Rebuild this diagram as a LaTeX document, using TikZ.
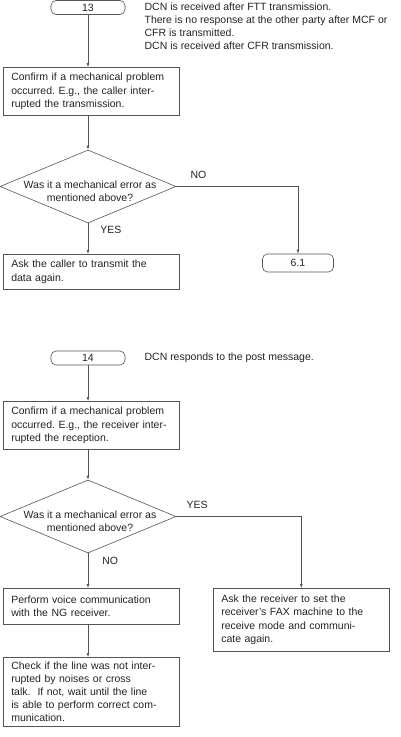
\documentclass[tikz,border=0pt]{standalone}
\usepackage{fontspec}
\setmainfont{Liberation Sans}
\usetikzlibrary{positioning,shapes.geometric,arrows.meta}
\definecolor{lineGray}{RGB}{85,85,85}
\definecolor{inkGray}{RGB}{35,35,35}

\begin{document}
\frenchspacing
\begin{tikzpicture}[x=1pt,y=-1pt,>={Latex[length=4pt,width=3pt]},line width=0.6pt,color=lineGray,
  every node/.style={font=\fontsize{10.5}{13.2}\selectfont,text=inkGray},
  term/.style={draw,rounded corners=5pt,minimum width=74pt,minimum height=14pt,inner sep=0pt},
  box/.style={draw,align=left,text width=160pt,inner xsep=8pt,inner ysep=2pt,anchor=north west},
  decide/.style={draw,diamond,minimum width=176pt,minimum height=73pt,inner sep=0pt},
  note/.style={align=left,inner sep=0pt},
  lbl/.style={inner sep=0pt}]
\useasboundingbox (0,0) rectangle (400,737);

% case 13
\node[term] (t13) at (88,7.5) {13};
\node[note,right=19pt of t13.north east,anchor=north west,yshift=-2pt] (n13) {DCN is received after FTT transmission.\\There is no response at the other party after MCF or\\CFR is transmitted.\\DCN is received after CFR transmission.};
\node[box,minimum height=48pt] (c13) at (3,67) {Confirm if a mechanical problem\\occurred. E.g., the caller inter-\\rupted the transmission.};
\node[decide] (q13) at (88,186.5) {};
\node[align=center,yshift=-5pt,xshift=2pt] (q13t) at (q13) {Was it a mechanical error as\\mentioned above?};
\node[box,minimum height=35pt] (a13) at (3,254) {Ask the caller to transmit the\\data again.};
\node[term,minimum width=71pt,minimum height=18pt] (t61) at (298,263) {6.1};
\node[lbl,above right=8pt and 14pt of q13.east] (no13) {NO};
\node[lbl,below right=3pt and 12pt of q13.south] (yes13) {YES};
\draw[->] (t13) -- (c13.north -| t13);
\draw[->] (c13.south -| q13) -- (q13.north);
\draw[->] (q13.east) -| (t61.north);
\draw[->] (q13.south) -- (a13.north -| q13);

% case 14
\node[term] (t14) at (88,358) {14};
\node[note,right=19pt of t14.north east,anchor=north west,yshift=-2pt] (n14) {DCN responds to the post message.};
\node[box,minimum height=48pt] (c14) at (3,401) {Confirm if a mechanical problem\\occurred. E.g., the receiver inter-\\rupted the reception.};
\node[decide] (q14) at (88,516.5) {};
\node[align=center,yshift=-5pt,xshift=2pt] (q14t) at (q14) {Was it a mechanical error as\\mentioned above?};
\node[box,minimum height=36pt] (v14) at (3,588) {Perform voice communication\\with the NG receiver.};
\node[box,minimum height=69pt] (k14) at (3,657) {Check if the line was not inter-\\rupted by noises or cross\\talk.\ \ If not, wait until the line\\is able to perform correct com-\\munication.};
\node[box,minimum height=63pt] (r14) at (213,588) {Ask the receiver to set the\\receiver's FAX machine to the\\receive mode and communi-\\cate again.};
\node[lbl,above right=7.5pt and 10pt of q14.east] (yes14) {YES};
\node[lbl,below right=4pt and 14pt of q14.south] (no14) {NO};
\draw[->] (t14) -- (c14.north -| t14);
\draw[->] (c14.south -| q14) -- (q14.north);
\draw[->] (q14.east) -| (r14.north);
\draw[->] (q14.south) -- (v14.north -| q14);
\draw[->] (v14.south -| q14) -- (k14.north -| q14);
\end{tikzpicture}
\end{document}
